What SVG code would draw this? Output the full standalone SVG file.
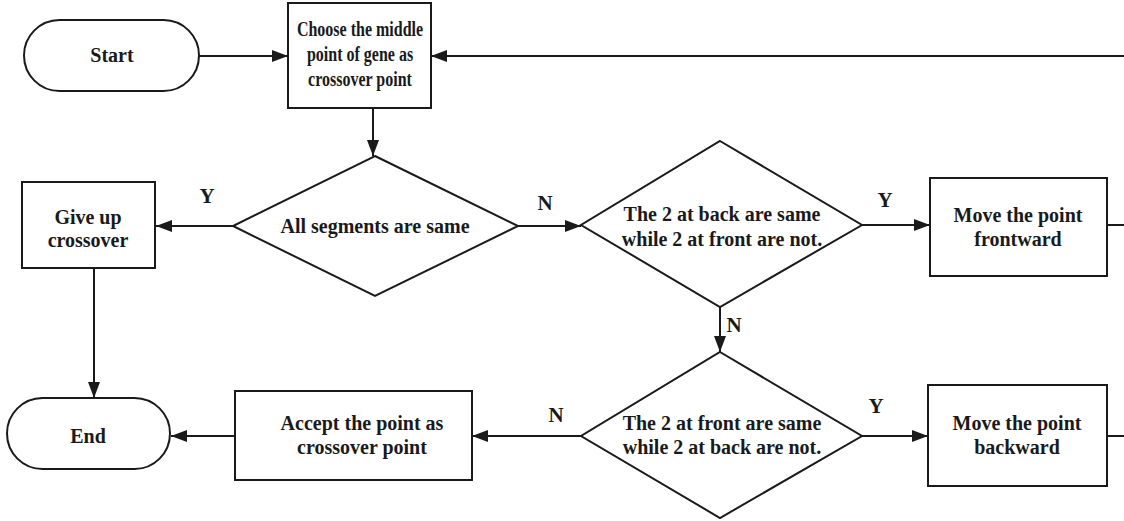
<svg xmlns="http://www.w3.org/2000/svg" width="1124" height="521" viewBox="0 0 1124 521">
<defs>
<marker id="ah" markerWidth="16" markerHeight="12" refX="16" refY="6" orient="auto" markerUnits="userSpaceOnUse">
<path d="M0,0 L16,6 L0,12 Z" fill="#1a1a1a"/>
</marker>
<style>
.s{fill:#fff;stroke:#1a1a1a;stroke-width:2}
.t{font-family:"Liberation Serif","Times New Roman",serif;font-weight:bold;font-size:20px;fill:#1a1a1a;text-anchor:middle}
.l{font-family:"Liberation Serif","Times New Roman",serif;font-weight:bold;font-size:21px;fill:#1a1a1a;text-anchor:middle}
.c{fill:none;stroke:#1a1a1a;stroke-width:2}
</style>
</defs>
<rect width="1124" height="521" fill="#fff"/>
<g id="connectors">
<path class="c" d="M199,56 H288" marker-end="url(#ah)"/>
<path class="c" d="M1124,56 H431" marker-end="url(#ah)"/>
<path class="c" d="M373,108 V156" marker-end="url(#ah)"/>
<path class="c" d="M233,226 H156" marker-end="url(#ah)"/>
<path class="c" d="M518,226 H581" marker-end="url(#ah)"/>
<path class="c" d="M862,225 H930" marker-end="url(#ah)"/>
<path class="c" d="M1107,225 H1124"/>
<path class="c" d="M94,268 V398" marker-end="url(#ah)"/>
<path class="c" d="M720,307 V352" marker-end="url(#ah)"/>
<path class="c" d="M581,436 H472" marker-end="url(#ah)"/>
<path class="c" d="M235,436 H171" marker-end="url(#ah)"/>
<path class="c" d="M862,436 H928" marker-end="url(#ah)"/>
<path class="c" d="M1107,436 H1124"/>
<text class="l" x="207" y="203">Y</text>
<text class="l" x="545" y="210">N</text>
<text class="l" x="885" y="207">Y</text>
<text class="l" x="734" y="332">N</text>
<text class="l" x="556" y="422">N</text>
<text class="l" x="876" y="413">Y</text>
</g>
<g id="start">
<rect class="s" x="24" y="20" width="175" height="71" rx="35.5"/>
<text class="t" x="112" y="62">Start</text>
</g>
<g id="choose">
<rect class="s" x="288" y="3" width="143" height="105"/>
<g transform="translate(360,0) scale(0.8,1)">
<text class="t" x="0" y="36">Choose the middle</text>
<text class="t" x="0" y="61">point of gene as</text>
<text class="t" x="0" y="86">crossover point</text>
</g>
</g>
<g id="allsame">
<polygon class="s" points="375,156 518,226 375,296 233,226"/>
<text class="t" x="375" y="233">All segments are same</text>
</g>
<g id="giveup">
<rect class="s" x="22" y="182" width="133" height="86"/>
<text class="t" x="88" y="224">Give up</text>
<text class="t" x="88" y="247">crossover</text>
</g>
<g id="backsame">
<polygon class="s" points="720,141 862,225 720,307 581,225"/>
<text class="t" x="722" y="221">The 2 at back are same</text>
<text class="t" x="722" y="246">while 2 at front are not.</text>
</g>
<g id="frontward">
<rect class="s" x="930" y="178" width="177" height="98"/>
<text class="t" x="1018" y="222">Move the point</text>
<text class="t" x="1018" y="246">frontward</text>
</g>
<g id="frontsame">
<polygon class="s" points="720,352 862,436 720,518 581,436"/>
<text class="t" x="722" y="430">The 2 at front are same</text>
<text class="t" x="722" y="454">while 2 at back are not.</text>
</g>
<g id="backward">
<rect class="s" x="928" y="385" width="179" height="101"/>
<text class="t" x="1017" y="430">Move the point</text>
<text class="t" x="1017" y="454">backward</text>
</g>
<g id="accept">
<rect class="s" x="235" y="391" width="237" height="89"/>
<text class="t" x="362" y="430">Accept the point as</text>
<text class="t" x="362" y="454">crossover point</text>
</g>
<g id="end">
<rect class="s" x="7" y="398" width="163" height="71" rx="35.5"/>
<text class="t" x="88" y="443">End</text>
</g>
</svg>
